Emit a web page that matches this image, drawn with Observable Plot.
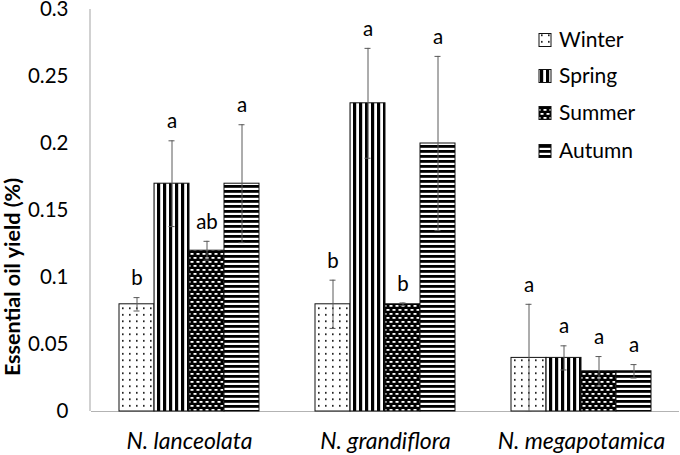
<!DOCTYPE html>
<html>
<head>
<meta charset="utf-8">
<script src="https://cdn.jsdelivr.net/npm/d3@7"></script>
<script src="https://cdn.jsdelivr.net/npm/@observablehq/plot@0.6"></script>
<style>
  html, body { margin: 0; padding: 0; background: #fff; }
</style>
</head>
<body>
<div id="chart"></div>
<script>
const species = ["N. lanceolata", "N. grandiflora", "N. megapotamica"];
const seasons = ["Winter", "Spring", "Summer", "Autumn"];

const winter = [0.08, 0.08, 0.04];
const spring = [0.17, 0.23, 0.04];
const summer = [0.12, 0.08, 0.03];
const autumn = [0.17, 0.20, 0.03];

const winterErr = [0.005, 0.018, 0.040];
const springErr = [0.032, 0.041, 0.009];
const summerErr = [0.007, 0.001, 0.011];
const autumnErr = [0.044, 0.065, 0.005];

const winterLetters = ["b", "b", "a"];
const springLetters = ["a", "a", "a"];
const summerLetters = ["ab", "b", "a"];
const autumnLetters = ["a", "a", "a"];

const yTicks = [0, 0.05, 0.1, 0.15, 0.2, 0.25, 0.3];
const yTitle = "Essential oil yield (%)";

const seriesValues = {Winter: winter, Spring: spring, Summer: summer, Autumn: autumn};
const seriesErr = {Winter: winterErr, Spring: springErr, Summer: summerErr, Autumn: autumnErr};
const seriesLetters = {Winter: winterLetters, Spring: springLetters, Summer: summerLetters, Autumn: autumnLetters};

const data = [];
species.forEach((sp, i) => {
  seasons.forEach(s => {
    data.push({species: sp, season: s, value: seriesValues[s][i], err: seriesErr[s][i], letter: seriesLetters[s][i]});
  });
});

const patId = s => `url(#pat-${s})`;
const errColor = "#5a5a5a";
const axisColor = "#b3b3b3";
const font = "Lato, 'Open Sans', sans-serif";

const barMarks = seasons.map(s =>
  Plot.barY(data.filter(d => d.season === s), {
    fx: "species", x: "season", y: "value",
    fill: patId(s), stroke: "#111", strokeWidth: 1
  })
);

const plot = Plot.plot({
  width: 680,
  height: 455,
  marginLeft: 90,
  marginRight: 0,
  marginTop: 9,
  marginBottom: 44,
  style: {fontFamily: font, fontSize: "20px", color: "#000", background: "#fff"},
  fx: {domain: species, padding: 0, label: null},
  x: {domain: seasons, paddingInner: 0, paddingOuter: 0.75, axis: null},
  y: {domain: [0, 0.3], label: null},
  marks: [
    Plot.ruleY([0], {stroke: axisColor, strokeWidth: 1.2}),
    ...barMarks,
    Plot.ruleX(data, {fx: "species", x: "season", y1: d => d.value - d.err, y2: d => d.value + d.err, stroke: errColor, strokeWidth: 1}),
    Plot.tickY(data, {fx: "species", x: "season", y: d => d.value + d.err, stroke: errColor, strokeWidth: 1, insetLeft: 14.5, insetRight: 14.5}),
    Plot.tickY(data, {fx: "species", x: "season", y: d => d.value - d.err, stroke: errColor, strokeWidth: 1, insetLeft: 14.5, insetRight: 14.5}),
    Plot.text(data, {fx: "species", x: "season", y: d => d.value + d.err, text: "letter", dy: -19, fontSize: 20.5, fill: "#000", lineAnchor: "middle"}),
    Plot.axisY({ticks: yTicks, tickFormat: d => String(d), tickSize: 0, tickPadding: 23, label: null, fontSize: 20.5}),
    Plot.axisFx({anchor: "bottom", tickSize: 0, tickPadding: 21, label: null, fontSize: 23, fontStyle: "italic"})
  ]
});

const svg = d3.select(plot);
const defs = svg.insert("defs", ":first-child");

// Winter: dots
const pw = defs.append("pattern").attr("id", "pat-Winter").attr("patternUnits", "userSpaceOnUse").attr("width", 7).attr("height", 6.5);
pw.append("rect").attr("width", 7).attr("height", 6.5).attr("fill", "#fff");
pw.append("rect").attr("x", 2).attr("y", 2).attr("width", 1.6).attr("height", 1.6).attr("fill", "#000");

// Spring: vertical stripes
const ps = defs.append("pattern").attr("id", "pat-Spring").attr("patternUnits", "userSpaceOnUse").attr("width", 6).attr("height", 6);
ps.append("rect").attr("width", 6).attr("height", 6).attr("fill", "#fff");
ps.append("rect").attr("x", 0).attr("y", 0).attr("width", 3.2).attr("height", 6).attr("fill", "#000");

// Summer: black with white dashes (brick)
const pu = defs.append("pattern").attr("id", "pat-Summer").attr("patternUnits", "userSpaceOnUse").attr("width", 6).attr("height", 8);
pu.append("rect").attr("width", 6).attr("height", 8).attr("fill", "#000");
pu.append("rect").attr("x", 0.5).attr("y", 1).attr("width", 3).attr("height", 1.8).attr("fill", "#fff");
pu.append("rect").attr("x", 3.5).attr("y", 5).attr("width", 3).attr("height", 1.8).attr("fill", "#fff");
pu.append("rect").attr("x", -2.5).attr("y", 5).attr("width", 3).attr("height", 1.8).attr("fill", "#fff");

// Autumn: horizontal stripes
const pa = defs.append("pattern").attr("id", "pat-Autumn").attr("patternUnits", "userSpaceOnUse").attr("width", 6).attr("height", 5);
pa.append("rect").attr("width", 6).attr("height", 5).attr("fill", "#fff");
pa.append("rect").attr("x", 0).attr("y", 0).attr("width", 6).attr("height", 2.8).attr("fill", "#000");

// y axis line
const yScale = plot.scale("y");
svg.append("line")
  .attr("x1", 90).attr("x2", 90)
  .attr("y1", yScale.apply(0.3)).attr("y2", yScale.apply(0))
  .attr("stroke", axisColor).attr("stroke-width", 1.2);

// y title
svg.append("text")
  .attr("transform", "translate(20,277) rotate(-90)")
  .attr("text-anchor", "middle")
  .attr("font-family", font)
  .attr("font-weight", "bold")
  .attr("font-size", 21.5)
  .attr("fill", "#000")
  .text(yTitle);

// legend
const legend = svg.append("g").attr("font-family", font).attr("font-size", 21).attr("text-anchor", "start");
const rowY = [40, 76, 113, 151];
seasons.forEach((s, i) => {
  legend.append("rect")
    .attr("x", 539).attr("y", rowY[i] - 6.5).attr("width", 12).attr("height", 13)
    .attr("fill", patId(s)).attr("stroke", "#111").attr("stroke-width", 1);
  legend.append("text")
    .attr("x", 559).attr("y", rowY[i]).attr("dy", "0.35em")
    .attr("text-anchor", "start")
    .attr("fill", "#000").text(s);
});

document.getElementById("chart").appendChild(plot);
</script>
</body>
</html>
